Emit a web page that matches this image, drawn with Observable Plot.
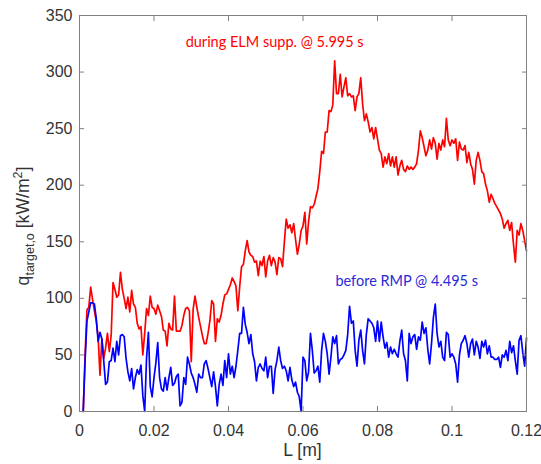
<!DOCTYPE html>
<html><head><meta charset="utf-8">
<script src="https://cdn.jsdelivr.net/npm/d3@7"></script>
<script src="https://cdn.jsdelivr.net/npm/@observablehq/plot@0.6"></script>
<style>html,body{margin:0;padding:0;background:#fff}#chart{width:541px;height:464px}</style>
</head><body><div id="chart"></div>
<script>
const L = [
0.001,0.0015,0.002,0.0025,0.003,0.0035,0.004,0.0045,0.005,0.0055,
0.006,0.0065,0.007,0.0075,0.008,0.0085,0.009,0.0095,0.01,0.0105,
0.011,0.0115,0.012,0.0125,0.013,0.0135,0.014,0.0145,0.015,0.0155,
0.016,0.0165,0.017,0.0175,0.018,0.0185,0.019,0.0195,0.02,0.0205,
0.021,0.0215,0.022,0.0225,0.023,0.0235,0.024,0.0245,0.025,0.0255,
0.026,0.0265,0.027,0.0275,0.028,0.0285,0.029,0.0295,0.03,0.0305,
0.031,0.0315,0.032,0.0325,0.033,0.0335,0.034,0.0345,0.035,0.0355,
0.036,0.0365,0.037,0.0375,0.038,0.0385,0.039,0.0395,0.04,0.0405,
0.041,0.0415,0.042,0.0425,0.043,0.0435,0.044,0.0445,0.045,0.0455,
0.046,0.0465,0.047,0.0475,0.048,0.0485,0.049,0.0495,0.05,0.0505,
0.051,0.0515,0.052,0.0525,0.053,0.0535,0.054,0.0545,0.055,0.0555,
0.056,0.0565,0.057,0.0575,0.058,0.0585,0.059,0.0595,0.06,0.0605,
0.061,0.0615,0.062,0.0625,0.063,0.0635,0.064,0.0645,0.065,0.0655,
0.066,0.0665,0.067,0.0675,0.068,0.0685,0.069,0.0695,0.07,0.0705,
0.071,0.0715,0.072,0.0725,0.073,0.0735,0.074,0.0745,0.075,0.0755,
0.076,0.0765,0.077,0.0775,0.078,0.0785,0.079,0.0795,0.08,0.0805,
0.081,0.0815,0.082,0.0825,0.083,0.0835,0.084,0.0845,0.085,0.0855,
0.086,0.0865,0.087,0.0875,0.088,0.0885,0.089,0.0895,0.09,0.0905,
0.091,0.0915,0.092,0.0925,0.093,0.0935,0.094,0.0945,0.095,0.0955,
0.096,0.0965,0.097,0.0975,0.098,0.0985,0.099,0.0995,0.1,0.1005,
0.101,0.1015,0.102,0.1025,0.103,0.1035,0.104,0.1045,0.105,0.1055,
0.106,0.1065,0.107,0.1075,0.108,0.1085,0.109,0.1095,0.11,0.1105,
0.111,0.1115,0.112,0.1125,0.113,0.1135,0.114,0.1145,0.115,0.1155,
0.116,0.1165,0.117,0.1175,0.118,0.1185,0.119,0.1195,0.12
];
const qDuring = [
0,50,90,92,110,99,89,80,66,32,
64,47,56,69,53,67,114,108,101,103,
123,108,100,91,101,88,107,95,92,78,
73,75,50,69,91,85,102,92,91,86,
94,89,84,72,71,58,78,73,72,102,
71,71,71,76,85,91,92,89,44,90,
102,92,83,75,67,60,60,69,80,98,
95,62,82,79,85,95,103,104,108,112,
118,115,111,89,110,128,130,142,151,141,
138,137,132,133,120,133,129,137,119,133,
138,129,136,132,121,136,135,128,150,170,
162,165,158,166,152,139,148,160,164,176,
148,168,181,180,183,190,197,212,230,228,
247,247,266,265,271,310,281,281,298,278,
287,295,279,281,278,279,266,278,281,295,
272,257,263,256,247,251,241,251,241,231,
228,216,225,219,228,217,225,216,225,209,
217,222,214,212,217,214,216,214,216,219,
231,248,242,234,226,231,240,232,242,237,
223,237,231,240,234,259,240,235,240,237,
241,222,238,232,231,235,220,229,219,214,
201,222,229,222,212,210,201,195,185,192,
188,184,181,178,175,170,162,166,169,160,
167,148,132,160,156,166,160,151,142
];
const qBefore = [
0,45,80,88,96,96,95,82,62,70,
64,45,24,26,44,45,56,44,62,50,
67,68,66,47,35,27,38,20,30,37,
33,41,14,0,47,70,22,13,30,43,
61,30,20,18,30,19,30,39,23,25,
31,33,5,8,30,24,48,42,34,30,
24,17,33,30,30,42,45,38,30,22,
35,22,5,24,33,23,45,30,51,33,
40,30,40,54,69,69,92,77,70,60,
68,51,44,27,39,42,38,36,48,30,
40,40,16,37,45,57,45,38,40,36,
27,39,28,22,26,17,13,0,48,45,
27,35,69,54,34,36,40,26,54,69,
62,51,33,48,66,60,67,42,46,47,
50,54,68,93,78,80,54,40,63,72,
54,42,68,82,80,78,74,62,80,62,
79,66,56,61,48,57,51,55,51,48,
62,72,51,45,27,69,60,66,68,55,
66,63,79,69,74,55,42,60,83,95,
69,57,62,48,45,70,68,48,51,48,
42,26,50,60,63,67,60,48,60,64,
50,62,57,47,62,57,63,51,58,48,
48,46,46,48,39,50,48,54,45,62,
52,58,45,33,63,67,52,40,65
];
const seriesNames = ["during ELM supp. @ 5.995 s", "before RMP @ 4.495 s"];
const seriesColors = ["#ff0000", "#0000ff"];
const xTicks = [0, 0.02, 0.04, 0.06, 0.08, 0.1, 0.12];
const xTickLabels = ["0", "0.02", "0.04", "0.06", "0.08", "0.1", "0.12"];
const yTicks = [0, 50, 100, 150, 200, 250, 300, 350];
const yTickLabels = ["0", "50", "100", "150", "200", "250", "300", "350"];

const rows = [
  ...L.map((l, i) => ({L: l, q: qDuring[i], s: seriesNames[0]})),
  ...L.map((l, i) => ({L: l, q: qBefore[i], s: seriesNames[1]}))
];
const AX = "#808080", TXT = "#333333";
const fmtX = d => xTickLabels[xTicks.indexOf(d)];
const fmtY = d => yTickLabels[yTicks.indexOf(d)];

const plot = Plot.plot({
  width: 541, height: 464,
  marginLeft: 79, marginRight: 15, marginTop: 15, marginBottom: 53,
  style: {fontFamily: "'Liberation Sans', Arial, sans-serif", fontSize: "16px", color: TXT, background: "#fff", overflow: "visible"},
  x: {domain: [0, 0.12]},
  y: {domain: [0, 350]},
  color: {domain: seriesNames, range: seriesColors},
  marks: [
    Plot.line(rows, {x: "L", y: "q", z: "s", stroke: "s", strokeWidth: 1.7}),
    Plot.frame({stroke: AX, strokeWidth: 1}),
    Plot.axisX(xTicks, {anchor: "bottom", tickSize: 0, tickPadding: 13.5, tickFormat: fmtX, label: null, fontSize: 16, fill: TXT}),
    Plot.axisX(xTicks, {anchor: "bottom", tickSize: -5, tickFormat: () => "", label: null, stroke: AX}),
    Plot.axisX(xTicks, {anchor: "top", tickSize: -5, tickFormat: () => "", label: null, stroke: AX}),
    Plot.axisY(yTicks, {anchor: "left", tickSize: 0, tickPadding: 7, tickFormat: fmtY, label: null, fontSize: 16, fill: TXT}),
    Plot.axisY(yTicks, {anchor: "left", tickSize: -5, tickFormat: () => "", label: null, stroke: AX}),
    Plot.axisY(yTicks, {anchor: "right", tickSize: -5, tickFormat: () => "", label: null, stroke: AX}),
    Plot.text([seriesNames[0]], {x: 0.0285, y: 326, text: d => d, textAnchor: "start", fill: seriesColors[0], fontSize: 14.5, fontFamily: "Lato, 'Open Sans', sans-serif"}),
    Plot.text([seriesNames[1]], {x: 0.0687, y: 115, text: d => d, textAnchor: "start", fill: "#2a2ad8", fontSize: 14.5, fontFamily: "Lato, 'Open Sans', sans-serif"})
  ]
});
document.getElementById("chart").appendChild(plot);

const svg = d3.select(plot);
// x-axis title
svg.append("text")
  .attr("x", 302.5).attr("y", 456)
  .attr("text-anchor", "middle")
  .attr("fill", TXT)
  .style("font-family", "'Liberation Sans', Arial, sans-serif")
  .style("font-size", "17.6px")
  .text("L [m]");
// y-axis title with sub/superscripts
const yl = svg.append("text")
  .attr("transform", "translate(29,226) rotate(-90)")
  .attr("text-anchor", "middle")
  .attr("fill", TXT)
  .style("font-family", "'Liberation Sans', Arial, sans-serif")
  .style("font-size", "17.6px");
yl.append("tspan").text("q");
yl.append("tspan").attr("dy", 5).style("font-size", "12.5px").text("target,o");
yl.append("tspan").attr("dy", -5).text("\u00a0[kW/m");
yl.append("tspan").attr("dy", -7).style("font-size", "12.5px").text("2");
yl.append("tspan").attr("dy", 7).text("]");
</script>
</body></html>
